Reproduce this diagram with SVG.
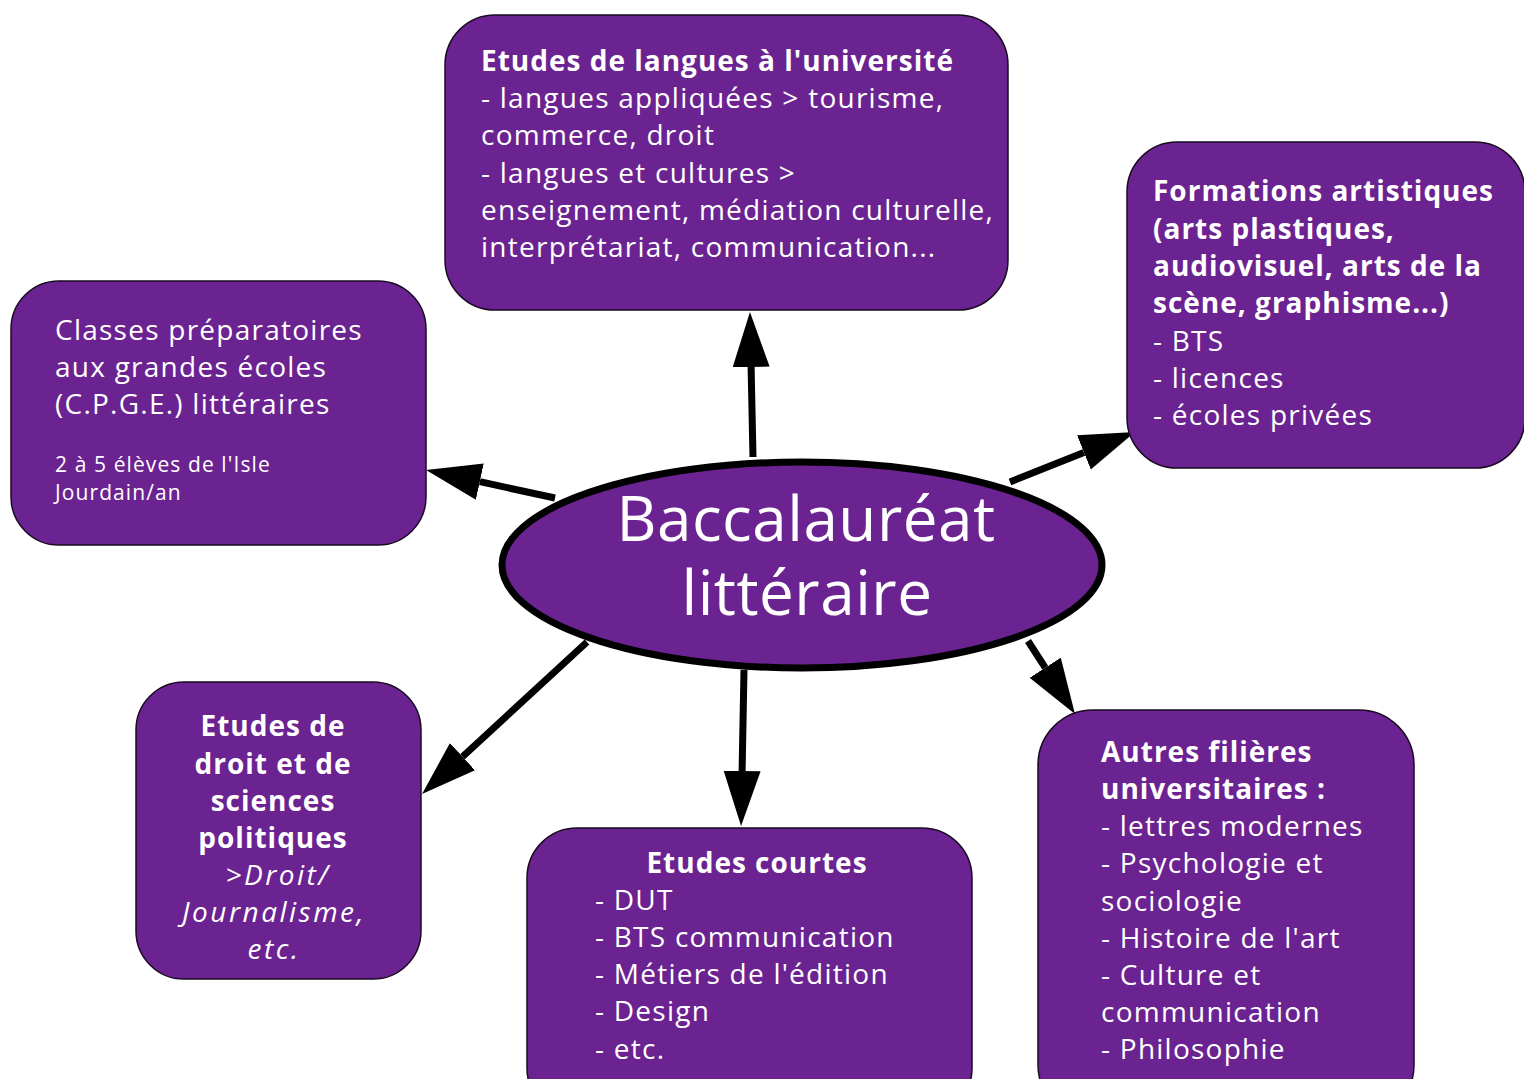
<svg xmlns="http://www.w3.org/2000/svg" width="1524" height="1079" viewBox="0 0 1524 1079">
<style>
.box{fill:#6b2391;stroke:#1a0a22;stroke-width:1.5}
.t{fill:#ffffff;font-family:"Open Sans","DejaVu Sans",sans-serif;font-size:28px;letter-spacing:1.25px}
.b{font-weight:bold;letter-spacing:1px}
.s{font-size:21px;letter-spacing:1.1px}
.c{text-anchor:middle}
.i{font-style:italic;letter-spacing:2.5px}
.big{font-size:62px;letter-spacing:0.5px}
.conn{stroke:#000;stroke-width:7;fill:none}
</style>
<defs>
<marker id="ah" markerUnits="userSpaceOnUse" markerWidth="56" markerHeight="38" refX="0" refY="18.5" orient="auto" viewBox="0 0 56 38">
<path d="M0,0 L55,18.5 L0,37 z" fill="#000"/>
</marker>
</defs>
<rect width="1524" height="1079" fill="#fff"/>
<g id="connectors">
<line class="conn" x1="753" y1="457" x2="751.1" y2="367" marker-end="url(#ah)"/>
<line class="conn" x1="555" y1="498" x2="479.8" y2="481.7" marker-end="url(#ah)"/>
<line class="conn" x1="1010" y1="482" x2="1083.9" y2="452.4" marker-end="url(#ah)"/>
<line class="conn" x1="587" y1="642" x2="462.5" y2="756.7" marker-end="url(#ah)"/>
<line class="conn" x1="744" y1="670" x2="742.1" y2="771" marker-end="url(#ah)"/>
<line class="conn" x1="1028" y1="641" x2="1045.2" y2="667.7" marker-end="url(#ah)"/>
</g>
<g id="center">
<ellipse cx="802" cy="565" rx="300" ry="103" fill="#6b2391" stroke="#000" stroke-width="7"/>
<text class="t big c" x="806" y="541">Baccalauréat</text>
<text class="t big c" x="807" y="615">littéraire</text>
</g>
<g id="langues">
<rect class="box" x="445" y="15" width="563" height="295" rx="50"/>
<text class="t" x="481"><tspan class="b" x="481" y="71">Etudes de langues à l'université</tspan><tspan x="481" y="108">- langues appliquées &gt; tourisme,</tspan><tspan x="481" y="145">commerce, droit</tspan><tspan x="481" y="183">- langues et cultures &gt;</tspan><tspan x="481" y="220">enseignement, médiation culturelle,</tspan><tspan x="481" y="257">interprétariat, communication...</tspan></text>
</g>
<g id="cpge">
<rect class="box" x="11" y="281" width="415" height="264" rx="48"/>
<text class="t"><tspan x="55" y="340">Classes préparatoires</tspan><tspan x="55" y="377">aux grandes écoles</tspan><tspan x="55" y="414">(C.P.G.E.) littéraires</tspan></text>
<text class="t s"><tspan x="55" y="472">2 à 5 élèves de l'Isle</tspan><tspan x="55" y="500">Jourdain/an</tspan></text>
</g>
<g id="artistiques">
<rect class="box" x="1127" y="142" width="398" height="326" rx="50"/>
<text class="t"><tspan class="b" x="1153" y="201">Formations artistiques</tspan><tspan class="b" x="1153" y="239">(arts plastiques,</tspan><tspan class="b" x="1153" y="276">audiovisuel, arts de la</tspan><tspan class="b" x="1153" y="313">scène, graphisme...)</tspan><tspan x="1153" y="351">- BTS</tspan><tspan x="1153" y="388">- licences</tspan><tspan x="1153" y="425">- écoles privées</tspan></text>
</g>
<g id="droit">
<rect class="box" x="136" y="682" width="285" height="297" rx="48"/>
<text class="t c"><tspan class="b" x="273" y="736">Etudes de</tspan><tspan class="b" x="273" y="774">droit et de</tspan><tspan class="b" x="273" y="811">sciences</tspan><tspan class="b" x="273" y="848">politiques</tspan><tspan class="i" x="278" y="885">&gt;Droit/</tspan><tspan class="i" x="274" y="922">Journalisme,</tspan><tspan class="i" x="274" y="959">etc.</tspan></text>
</g>
<g id="courtes">
<rect class="box" x="527" y="828" width="445" height="290" rx="50"/>
<text class="t"><tspan class="b c" x="757" y="873">Etudes courtes</tspan><tspan x="595" y="910">- DUT</tspan><tspan x="595" y="947">- BTS communication</tspan><tspan x="595" y="984">- Métiers de l'édition</tspan><tspan x="595" y="1021">- Design</tspan><tspan x="595" y="1059">- etc.</tspan></text>
</g>
<g id="autres">
<rect class="box" x="1038" y="710" width="376" height="410" rx="55"/>
<text class="t"><tspan class="b" x="1101" y="762">Autres filières</tspan><tspan class="b" x="1101" y="799">universitaires :</tspan><tspan x="1101" y="836">- lettres modernes</tspan><tspan x="1101" y="873">- Psychologie et</tspan><tspan x="1101" y="911">sociologie</tspan><tspan x="1101" y="948">- Histoire de l'art</tspan><tspan x="1101" y="985">- Culture et</tspan><tspan x="1101" y="1022">communication</tspan><tspan x="1101" y="1059">- Philosophie</tspan></text>
</g>
</svg>
